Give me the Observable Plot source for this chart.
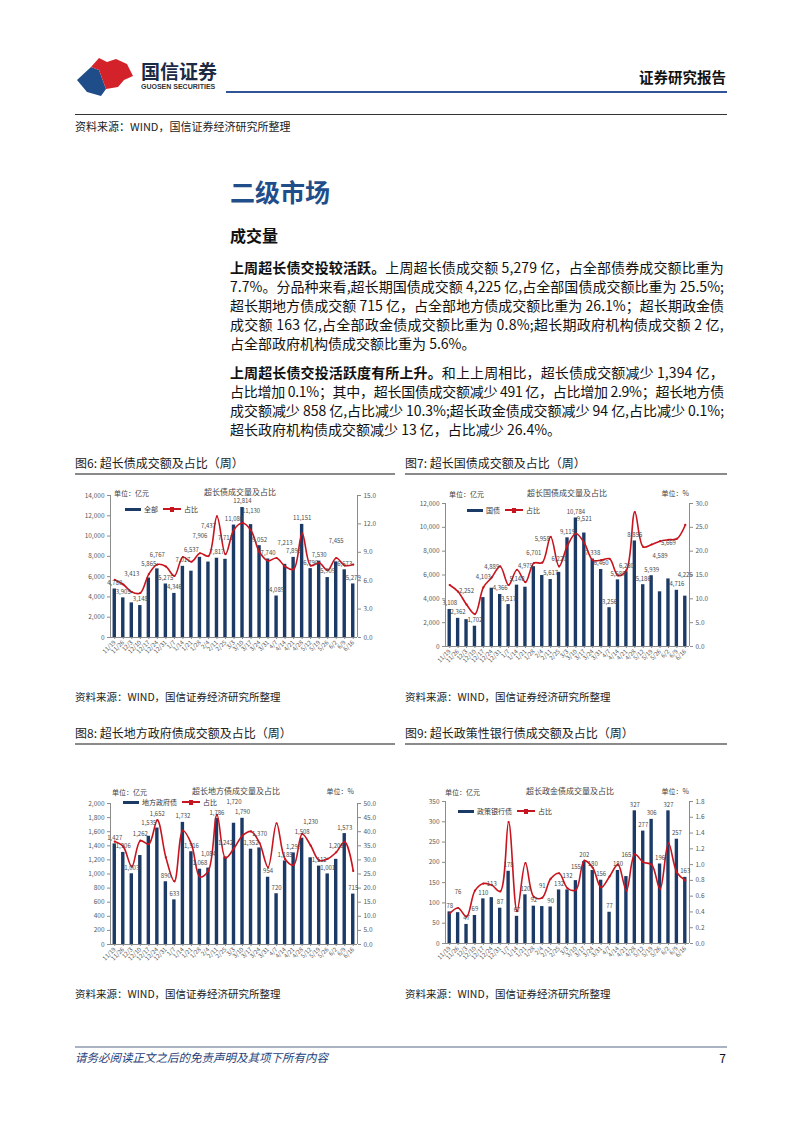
<!DOCTYPE html>
<html><head><meta charset="utf-8">
<script src="https://cdn.jsdelivr.net/npm/d3@7"></script>
<script src="https://cdn.jsdelivr.net/npm/@observablehq/plot@0.6"></script>
<style>
body{margin:0;background:#fff;font-family:"Noto Sans CJK SC","Noto Sans",sans-serif;}
#page{position:relative;width:802px;height:1133px;overflow:hidden;background:#fff;}
.t{position:absolute;white-space:nowrap;}
.chart{position:absolute;}
.chart svg{overflow:visible;}
</style></head>
<body><div id="page"></div>
<script>
// ---------- data ----------
const dates = ["11/19","11/26","12/3","12/10","12/17","12/24","12/31","1/7","1/14","1/21","1/28","2/4","2/11","2/25","3/3","3/10","3/17","3/24","3/31","4/7","4/14","4/21","4/28","5/12","5/19","5/26","6/2","6/9","6/16"];

const totalVol   = [4780,3905,3413,3148,5865,6767,5275,4346,7017,6537,7906,7437,7817,7711,11086,12814,11130,9052,7740,4089,7213,7898,11151,6790,7530,5909,7455,6673,5279];
const totalShare = [6.1,5.6,4.8,4.7,6.7,7.7,7.5,6.5,8.5,8.0,8.9,8.6,12.8,8.8,11.4,12.1,11.3,9.0,8.1,8.4,7.5,7.2,11.0,7.6,7.9,7.1,8.4,7.6,7.7];

const govVol   = [3108,2362,2252,1702,4103,4889,4366,3517,5148,4975,6701,5958,5617,6220,9119,10784,9521,7338,6460,3256,5589,6280,8855,5186,5939,4589,5669,4716,4225];
const govShare = [12.9,11.5,8.8,6.8,12.4,14.5,16.8,12.9,16.1,13.5,17.5,17.6,23.0,16.8,21.2,23.7,21.7,18.1,18.1,18.4,14.9,16.0,28.2,20.9,21.4,22.1,22.4,22.6,25.5];

const localVol   = [1427,1306,1003,1262,1535,1652,890,633,1732,1316,1068,1084,1786,1242,1720,1790,1352,1370,954,720,1185,1299,1508,1230,1112,1001,1208,1573,715];
const localShare = [36.5,34.7,27.6,36.8,35.6,44.1,30.9,22.4,40.4,35.6,23.9,26.2,46.0,30.7,34.1,38.6,40.1,36.0,27.4,43.0,30.3,28.2,39.2,35.1,29.8,30.4,32.7,36.4,26.1];

const policyVol   = [78,76,47,69,110,113,87,178,67,120,92,91,90,132,132,155,202,180,156,77,180,165,327,277,306,196,327,257,163];
const policyShare = [0.38,0.45,0.34,0.67,0.76,0.74,0.66,1.54,0.41,1.02,0.59,0.58,0.82,0.89,0.70,0.68,1.05,0.96,0.71,0.85,1.00,0.67,1.13,1.03,1.00,0.69,1.27,0.90,0.80];

const BAR = "#1b3a66", RED = "#c8141e", AX = "#8c8c8c", TXT = "#595959";

const page = document.getElementById("page");
function txt(s, x, y, o = {}) {
  const size = o.size || 12;
  const d = document.createElement("div");
  d.className = "t";
  if (o.html) d.innerHTML = s; else d.textContent = s;
  d.style.left = x + "px";
  d.style.top = (y - size * 0.6) + "px";
  d.style.fontSize = size + "px";
  d.style.lineHeight = (size * 1.2) + "px";
  d.style.color = o.color || "#222";
  d.style.fontWeight = o.weight || 400;
  if (o.italic) d.style.fontStyle = "italic";
  if (o.family) d.style.fontFamily = o.family;
  if (o.anchor === "middle") d.style.transform = "translateX(-50%)";
  if (o.anchor === "end") d.style.transform = "translateX(-100%)";
  page.appendChild(d);
  return d;
}
function box(x, y, w, h, color) {
  const d = document.createElement("div");
  d.style.cssText = `position:absolute;left:${x}px;top:${y}px;width:${w}px;height:${h}px;background:${color};`;
  page.appendChild(d);
  return d;
}
function jline(html, x, y, W, size, justify = true) {
  const d = txt(html, x, y, {size, html: true, color: "#111"});
  if (justify) {
    const w = d.getBoundingClientRect().width;
    const n = d.textContent.length;
    d.style.letterSpacing = ((W - w) / n) + "px";
  }
  return d;
}

// ---------- header ----------
const logo = document.createElementNS("http://www.w3.org/2000/svg", "svg");
logo.setAttribute("width", 62); logo.setAttribute("height", 40);
logo.style.cssText = "position:absolute;left:76px;top:56px;";
logo.innerHTML = `<polygon points="1,24 15,11 23,14 30,33 25,40 11,36" fill="#1f4d8a"/>
<polygon points="15,11 23,2 31,6 40,3 51,8 57,20 48,24 42,31 30,33 23,14" fill="#d3222a"/>`;
page.appendChild(logo);
txt("国信证券", 141, 71, {size: 19, weight: 700, color: "#1d2a44"});
txt("GUOSEN SECURITIES", 141, 87, {size: 7, weight: 700, color: "#333", family: "Liberation Sans, Arial, sans-serif"});
txt("证券研究报告", 726, 77, {size: 14.5, weight: 700, color: "#111", anchor: "end"});
box(226, 91, 501, 2, "#2f5597");
box(75, 114, 652, 1, "#333");
txt("资料来源：WIND，国信证券经济研究所整理", 75, 127, {size: 11, color: "#222"});

// ---------- body text ----------
txt("二级市场", 230, 191, {size: 25, weight: 700, color: "#1f4e8a"});
txt("成交量", 230, 236, {size: 16, weight: 700, color: "#111"});
const W = 494, FS = 14;
jline("<b>上周超长债交投较活跃。</b>上周超长债成交额 5,279 亿，占全部债券成交额比重为", 230, 267, W, FS);
jline("7.7%。分品种来看,超长期国债成交额 4,225 亿,占全部国债成交额比重为 25.5%;", 230, 286, W, FS);
jline("超长期地方债成交额 715 亿，占全部地方债成交额比重为 26.1%；超长期政金债", 230, 305, W, FS);
jline("成交额 163 亿,占全部政金债成交额比重为 0.8%;超长期政府机构债成交额 2 亿,", 230, 324, W, FS);
jline("占全部政府机构债成交额比重为 5.6%。", 230, 343, W, FS, false);
jline("<b>上周超长债交投活跃度有所上升。</b>和上上周相比，超长债成交额减少 1,394 亿，", 230, 372, W, FS);
jline("占比增加 0.1%；其中，超长国债成交额减少 491 亿，占比增加 2.9%；超长地方债", 230, 391, W, FS);
jline("成交额减少 858 亿,占比减少 10.3%;超长政金债成交额减少 94 亿,占比减少 0.1%;", 230, 410, W, FS);
jline("超长政府机构债成交额减少 13 亿，占比减少 26.4%。", 230, 429, W, FS, false);

// ---------- figure titles / sources ----------
const figs = [
  {t: "图6: 超长债成交额及占比（周）", x: 75, y: 463, x2: 395},
  {t: "图7: 超长国债成交额及占比（周）", x: 405, y: 463, x2: 727},
  {t: "图8: 超长地方政府债成交额及占比（周）", x: 75, y: 733, x2: 395},
  {t: "图9: 超长政策性银行债成交额及占比（周）", x: 405, y: 733, x2: 727}
];
for (const f of figs) {
  txt(f.t, f.x, f.y, {size: 12, color: "#222"});
  box(f.x, f.y + 10, f.x2 - f.x, 2, "#8a8a8a");
}
txt("资料来源：WIND，国信证券经济研究所整理", 75, 697, {size: 10.5});
txt("资料来源：WIND，国信证券经济研究所整理", 405, 697, {size: 10.5});
txt("资料来源：WIND，国信证券经济研究所整理", 75, 994, {size: 10.5});
txt("资料来源：WIND，国信证券经济研究所整理", 405, 994, {size: 10.5});

// footer
box(75, 1046, 652, 1.5, "#a9b3c4");
txt("请务必阅读正文之后的免责声明及其项下所有内容", 75, 1058, {size: 11.5, italic: true, color: "#1f3f7a"});
txt("7", 726, 1058, {size: 12, anchor: "end", color: "#111"});

// ---------- charts ----------
function dualChart(c) {
  const n = dates.length;
  const k = c.yMax / c.rMax;
  const fmt = c.fmt;
  const LFS = 6;
  const plotW = c.w - c.mL - c.mR, plotH = c.h - c.mT - c.mB;
  const pxPerUnit = plotH / c.yMax;
  // place bar value labels, staggering upward where they would collide
  const placed = [];
  const rows = dates.map((d, i) => {
    const v = c.bars[i];
    const label = fmt(v);
    const lw = label.length * LFS * 0.62;
    const px = c.mL + (i + 0.5) / n * plotW;
    const baseY = c.mT + plotH - v * pxPerUnit;
    let off = 6;
    for (const cand of [6, 13.5, 21, 28.5, 36]) {
      off = cand;
      const py = baseY - cand;
      const hit = placed.some(p => Math.abs(p.x - px) < (p.w + lw) / 2 + 1 && Math.abs(p.y - py) < LFS + 1.5);
      if (!hit) break;
    }
    placed.push({x: px, y: baseY - off, w: lw});
    return {i, d, v, s: c.share[i] * k, label, ly: v + off / pxPerUnit};
  });
  const leftTicks = d3.range(0, Math.round(c.yMax / c.yStep) + 1).map(j => j * c.yStep);
  const rightTicks = d3.range(0, Math.round(c.rMax / c.rStep) + 1).map(j => j * c.rStep * k);
  const plot = Plot.plot({
    width: c.w, height: c.h,
    marginLeft: c.mL, marginRight: c.mR, marginTop: c.mT, marginBottom: c.mB,
    style: {fontFamily: "'Noto Sans CJK SC', 'Liberation Sans', sans-serif", fontSize: "7px", color: TXT, background: "transparent", overflow: "visible"},
    x: {domain: [-0.5, n - 0.5]},
    y: {domain: [0, c.yMax]},
    marks: [
      Plot.rectY(rows, {x1: d => d.i - 0.2, x2: d => d.i + 0.2, y: "v", fill: BAR}),
      Plot.ruleX([-0.5, n - 0.5], {stroke: AX, strokeWidth: 1}),
      Plot.ruleY([0], {stroke: AX, strokeWidth: 1}),
      Plot.axisY(leftTicks, {anchor: "left", tickFormat: fmt, tickSize: 3, tickPadding: 3, label: null, stroke: AX, fill: TXT, fontSize: 6.5}),
      Plot.axisY(rightTicks, {anchor: "right", tickFormat: v => (v / k).toFixed(1), tickSize: 3, tickPadding: 3, label: null, stroke: AX, fill: TXT, fontSize: 6.5}),
      Plot.axisX(d3.range(n), {tickFormat: i => dates[i], tickRotate: -45, tickSize: 2, tickPadding: 2, label: null, stroke: AX, fill: TXT, fontSize: 6}),
      Plot.line(rows, {x: "i", y: "s", stroke: RED, strokeWidth: 1.6, curve: "catmull-rom"}),
      Plot.dot(rows, {x: "i", y: "s", r: 1.1, fill: RED}),
      Plot.text(rows, {x: "i", y: "ly", text: "label", fontSize: LFS, fill: "#4a4a4a"})
    ]
  });
  const holder = document.createElement("div");
  holder.className = "chart";
  holder.style.left = c.x + "px"; holder.style.top = c.y + "px";
  holder.appendChild(plot);
  page.appendChild(holder);

  // in-chart texts
  txt("单位：亿元", c.unitX, c.topY, {size: 7, color: "#444"});
  txt(c.title, c.titleX, c.topY - 1, {size: 8, color: "#444", anchor: "middle"});
  if (c.pct) txt("单位：%", c.pctX, c.topY - 1, {size: 7, color: "#444", anchor: "end"});
  // legend
  box(c.legX, c.legY - 1.5, 16, 3, BAR);
  txt(c.legName, c.legX + 19, c.legY, {size: 7, color: "#333"});
  const rx = c.legX + 19 + c.legName.length * 7 + 5;
  box(rx, c.legY - 1, 18, 2, RED);
  box(rx + 7, c.legY - 2.5, 4, 5, RED);
  txt("占比", rx + 21, c.legY, {size: 7, color: "#333"});
}

const comma = d3.format(",");
dualChart({x: 75, y: 480, w: 325, h: 200, mL: 35, mR: 43, mT: 15, mB: 43,
  bars: totalVol, share: totalShare, yMax: 14000, yStep: 2000, rMax: 15, rStep: 3, fmt: comma,
  title: "超长债成交量及占比", titleX: 240, unitX: 114, topY: 493, pct: false,
  legX: 125, legY: 509, legName: "全部"});
dualChart({x: 405, y: 480, w: 325, h: 200, mL: 40, mR: 41, mT: 23, mB: 34,
  bars: govVol, share: govShare, yMax: 12000, yStep: 2000, rMax: 30, rStep: 5, fmt: comma,
  title: "超长国债成交量及占比", titleX: 567, unitX: 449, topY: 494, pct: true, pctX: 689,
  legX: 467, legY: 510, legName: "国债"});
dualChart({x: 75, y: 760, w: 325, h: 210, mL: 35, mR: 43, mT: 43, mB: 26,
  bars: localVol, share: localShare, yMax: 2000, yStep: 200, rMax: 50, rStep: 5, fmt: comma,
  title: "超长地方债成交量及占比", titleX: 236, unitX: 112, topY: 792, pct: true, pctX: 354,
  legX: 123, legY: 802, legName: "地方政府债"});
dualChart({x: 405, y: 760, w: 325, h: 210, mL: 40, mR: 41, mT: 41, mB: 27,
  bars: policyVol, share: policyShare, yMax: 350, yStep: 50, rMax: 1.8, rStep: 0.2, fmt: d3.format("d"),
  title: "超长政金债成交量及占比", titleX: 570, unitX: 445, topY: 792, pct: true, pctX: 689,
  legX: 458, legY: 811, legName: "政策银行债"});
</script>
</body></html>
